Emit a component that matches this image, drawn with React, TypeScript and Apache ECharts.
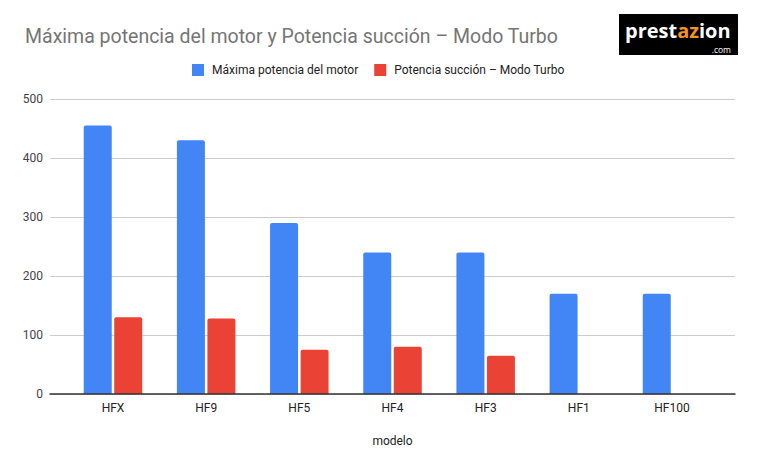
import React, { useEffect, useRef } from "react";
import * as echarts from "echarts";

const categories = ["HFX", "HF9", "HF5", "HF4", "HF3", "HF1", "HF100"];
const maxMotor = [455, 430, 290, 240, 240, 170, 170];
const succionTurbo = [130, 128, 75, 80, 65, null, null];
const yTicks = [0, 100, 200, 300, 400, 500];

const seriesNames = ["Máxima potencia del motor", "Potencia succión – Modo Turbo"];
const FONT = "Roboto, 'Noto Sans', sans-serif";
const LOGO_FONT = "'Open Sans', sans-serif";

export default function App() {
  const ref = useRef<HTMLDivElement>(null);
  useEffect(() => {
    const chart = echarts.init(ref.current!, null, { renderer: "svg" });
    const option: any = {
      animation: false,
      backgroundColor: "#ffffff",
      textStyle: { fontFamily: FONT },
      title: {
        text: "Máxima potencia del motor y Potencia succión – Modo Turbo",
        left: 25,
        top: 26,
        padding: 0,
        textStyle: { fontFamily: FONT, fontSize: 19.5, fontWeight: "normal", color: "#757575" },
      },
      legend: {
        data: seriesNames,
        left: 192,
        top: 64,
        padding: 0,
        icon: "rect",
        itemWidth: 12,
        itemHeight: 12,
        itemGap: 16,
        textStyle: { fontFamily: FONT, fontSize: 12, color: "#222222", padding: [0, 0, 0, 3] },
      },
      grid: [
        { left: 50, right: 24, top: 99, bottom: 76 },
        { left: 66.4, right: 40.4, top: 99, bottom: 76 },
      ],
      xAxis: [
        {
          gridIndex: 0,
          type: "value",
          min: 0,
          max: 1,
          axisLine: { show: true, lineStyle: { color: "#333333", width: 1.5 } },
          axisTick: { show: false },
          axisLabel: { show: false },
          splitLine: { show: false },
          z: 5,
        },
        {
          gridIndex: 1,
          type: "category",
          data: categories,
          axisLine: { show: false },
          axisTick: { show: false },
          axisLabel: { fontFamily: FONT, fontSize: 12, color: "#222222", margin: 8 },
          name: "modelo",
          nameLocation: "middle",
          nameGap: 41,
          nameTextStyle: { fontFamily: FONT, fontSize: 12, color: "#222222" },
        },
      ],
      yAxis: [
        {
          gridIndex: 0,
          type: "value",
          min: 0,
          max: 500,
          interval: 100,
          axisLine: { show: false },
          axisTick: { show: false },
          axisLabel: {
            fontFamily: FONT,
            fontSize: 12,
            color: "#444444",
            margin: 7,
            customValues: yTicks,
          },
          splitLine: { show: true, lineStyle: { color: "#cccccc", width: 1 } },
        },
        {
          gridIndex: 1,
          type: "value",
          min: 0,
          max: 500,
          interval: 100,
          show: false,
          splitLine: { show: false },
        },
      ],
      series: [
        {
          name: seriesNames[0],
          type: "bar",
          xAxisIndex: 1,
          yAxisIndex: 1,
          data: maxMotor,
          barWidth: 28,
          barGap: "9%",
          itemStyle: { color: "#4285F4", borderRadius: [2, 2, 0, 0] },
        },
        {
          name: seriesNames[1],
          type: "bar",
          xAxisIndex: 1,
          yAxisIndex: 1,
          data: succionTurbo,
          barWidth: 28,
          barGap: "9%",
          itemStyle: { color: "#EA4335", borderRadius: [2, 2, 0, 0] },
        },
      ],
      graphic: [
        {
          type: "group",
          left: 619,
          top: 14,
          children: [
            { type: "rect", shape: { x: 0, y: 0, width: 119, height: 41 }, style: { fill: "#000000" } },
            {
              type: "text",
              x: 6,
              y: 16,
              style: {
                text: "{w|prest}{o|az}{w|ion}",
                verticalAlign: "middle",
                lineHeight: 12,
                rich: {
                  w: { fill: "#ffffff", fontFamily: LOGO_FONT, fontWeight: "bold", fontSize: 20, lineHeight: 12 },
                  o: { fill: "#F7941D", fontFamily: LOGO_FONT, fontWeight: "bold", fontSize: 20, lineHeight: 12 },
                },
              },
            },
            {
              type: "text",
              x: 112,
              y: 35,
              style: {
                text: ".com",
                fill: "#ffffff",
                fontFamily: LOGO_FONT,
                fontSize: 8.5,
                lineHeight: 7,
                align: "right",
                verticalAlign: "middle",
              },
            },
          ],
        },
      ],
    };
    chart.setOption(option);
    return () => chart.dispose();
  }, []);
  return (
    <div
      ref={ref}
      style={{ position: "fixed", left: 0, top: 0, width: 759, height: 470 }}
    />
  );
}
